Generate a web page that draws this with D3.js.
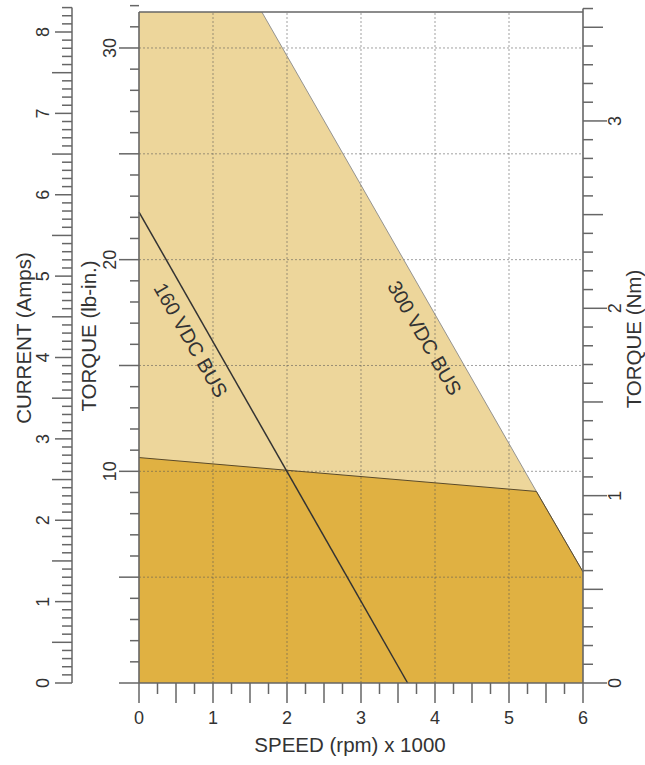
<!DOCTYPE html>
<html><head><meta charset="utf-8">
<script src="https://cdn.jsdelivr.net/npm/d3@7"></script>
<style>
body{margin:0;background:#fff}
svg{display:block}
text{font-family:"Liberation Sans",Arial,Helvetica,sans-serif;fill:#333}
</style>
</head><body>
<svg id="c" width="645" height="765"></svg>
<script>
// ---- data ----
const speedTicks = [0, 1, 2, 3, 4, 5, 6];
const speedLabels = ["0", "1", "2", "3", "4", "5", "6"];
const torqueTicks = [10, 20, 30];
const torqueLabels = ["10", "20", "30"];
const currentTicks = [0, 1, 2, 3, 4, 5, 6, 7, 8];
const currentLabels = ["0", "1", "2", "3", "4", "5", "6", "7", "8"];
const nmTicks = [0, 1, 2, 3];
const nmLabels = ["0", "1", "2", "3"];
const gridSpeed = [1, 2, 3, 4, 5];
const gridTorque = [5, 10, 15, 20, 25, 30];

// 300 VDC bus (peak) envelope: speed x1000 rpm, torque lb-in
const bus300Speed = [0, 1.66, 5.37, 6.0];
const bus300Torque = [31.7, 31.7, 9.05, 5.25];
// continuous torque envelope
const contSpeed = [0, 2.0, 5.37, 6.0];
const contTorque = [10.65, 10.05, 9.05, 5.25];
// 160 VDC bus line
const bus160Speed = [0, 3.63];
const bus160Torque = [22.25, 0];
const curveLabels = ["160 VDC BUS", "300 VDC BUS"];

// ---- scales ----
const torqueMax = 31.7;
const LBIN_PER_NM = 8.851;
const x = d3.scaleLinear().domain([0, 6]).range([139, 583]);
const y = d3.scaleLinear().domain([0, torqueMax]).range([683, 12]);
const yA = d3.scaleLinear().domain([0, 8]).range([683, 32]);
const yN = d3.scaleLinear().domain([0, torqueMax / LBIN_PER_NM]).range([683, 12]);

const svg = d3.select("#c");
const tickCol = "#666";

// ---- fills ----
const area = d3.area().x(d => x(d[0])).y0(y(0)).y1(d => y(d[1]));
const lightPts = bus300Speed.map((s, i) => [s, bus300Torque[i]]);
const darkPts = contSpeed.map((s, i) => [s, contTorque[i]]);
svg.append("path").attr("d", area(lightPts)).attr("fill", "#EDD69B");
svg.append("path").attr("d", area(darkPts)).attr("fill", "#E0B142");

// ---- grid ----
const g = svg.append("g").attr("stroke", "#555").attr("stroke-opacity", 0.55)
  .attr("stroke-width", 1).attr("stroke-dasharray", "2,2");
gridSpeed.forEach(s => g.append("line").attr("x1", x(s)).attr("x2", x(s)).attr("y1", y(0)).attr("y2", y(torqueMax)));
gridTorque.forEach(t => g.append("line").attr("x1", x(0)).attr("x2", x(6)).attr("y1", y(t)).attr("y2", y(t)));

// ---- curve strokes ----
const line = d3.line().x(d => x(d[0])).y(d => y(d[1]));
svg.append("path").attr("d", line(lightPts.slice(1))).attr("fill", "none")
  .attr("stroke", "#8a8a8a").attr("stroke-width", 0.9);
svg.append("path").attr("d", line(darkPts)).attr("fill", "none")
  .attr("stroke", "#5a4a2a").attr("stroke-width", 1);
const p160 = bus160Speed.map((s, i) => [s, bus160Torque[i]]);
svg.append("path").attr("d", line(p160)).attr("fill", "none")
  .attr("stroke", "#333").attr("stroke-width", 1.5);

// ---- curve labels ----
function ang(s0, t0, s1, t1) {
  return Math.atan2(y(t1) - y(t0), x(s1) - x(s0)) * 180 / Math.PI;
}
const a160 = ang(bus160Speed[0], bus160Torque[0], bus160Speed[1], bus160Torque[1]);
const a300 = ang(bus300Speed[1], bus300Torque[1], bus300Speed[2], bus300Torque[2]);
[[curveLabels[0], 0.70, 16.2, a160], [curveLabels[1], 3.86, 16.3, a300]].forEach(([t, s, q, a]) => {
  svg.append("text").attr("transform", `translate(${x(s)},${y(q)}) rotate(${a})`)
    .attr("text-anchor", "middle").attr("dominant-baseline", "central")
    .attr("font-size", 20).attr("fill", "#222").text(t);
});

// ---- axis lines ----
const ax = svg.append("g").attr("stroke", tickCol).attr("fill", "none");
ax.append("line").attr("x1", 72).attr("x2", 72).attr("y1", yA(8.3)).attr("y2", yA(0)).attr("stroke", "#8c8c8c").attr("stroke-width", 2);
ax.append("line").attr("x1", x(0)).attr("x2", x(0)).attr("y1", y(torqueMax)).attr("y2", y(0)).attr("stroke-width", 1.6);
ax.append("line").attr("x1", x(0)).attr("x2", x(6)).attr("y1", y(torqueMax)).attr("y2", y(torqueMax)).attr("stroke-width", 1.5);
ax.append("line").attr("x1", x(6)).attr("x2", x(6)).attr("y1", yN(3.6)).attr("y2", y(0)).attr("stroke-width", 1.6);
ax.append("line").attr("x1", x(0)).attr("x2", x(6)).attr("y1", y(0)).attr("y2", y(0)).attr("stroke-width", 1.6);

// ---- ticks ----
const tk = svg.append("g").attr("stroke", tickCol).attr("stroke-width", 1.5);
const near = (v, m) => Math.abs(v / m - Math.round(v / m)) < 1e-6;
d3.range(0, 84).map(i => i / 10).forEach(v => {
  const L = near(v, 1) ? 17 : near(v, 0.5) ? 20 : 10;
  tk.append("line").attr("x1", 72 - L).attr("x2", 72).attr("y1", yA(v)).attr("y2", yA(v));
});
d3.range(0, 33).forEach(v => {
  const L = near(v, 5) ? 20 : 9;
  tk.append("line").attr("x1", x(0) - L).attr("x2", x(0)).attr("y1", y(v)).attr("y2", y(v));
});
d3.range(0, 25).map(i => i / 4).forEach(v => {
  const L = near(v, 0.5) ? 20 : 11;
  tk.append("line").attr("x1", x(v)).attr("x2", x(v)).attr("y1", y(0)).attr("y2", y(0) + L);
});
d3.range(0, 37).map(i => i / 10).forEach(v => {
  const L = near(v, 1) ? 24 : near(v, 0.5) ? 20 : 10;
  tk.append("line").attr("x1", x(6)).attr("x2", x(6) + L).attr("y1", yN(v)).attr("y2", yN(v));
});

// ---- tick labels ----
const fs = 18;
speedTicks.forEach((v, i) => svg.append("text").attr("x", x(v)).attr("y", 718)
  .attr("text-anchor", "middle").attr("dominant-baseline", "central").attr("font-size", fs).text(speedLabels[i]));
currentTicks.forEach((v, i) => svg.append("text").attr("transform", `translate(43,${yA(v)}) rotate(-90)`)
  .attr("text-anchor", "middle").attr("dominant-baseline", "central").attr("font-size", fs).text(currentLabels[i]));
torqueTicks.forEach((v, i) => svg.append("text").attr("transform", `translate(110,${y(v)}) rotate(-90)`)
  .attr("text-anchor", "middle").attr("dominant-baseline", "central").attr("font-size", fs).text(torqueLabels[i]));
nmTicks.forEach((v, i) => svg.append("text").attr("transform", `translate(615,${yN(v)}) rotate(-90)`)
  .attr("text-anchor", "middle").attr("dominant-baseline", "central").attr("font-size", fs).text(nmLabels[i]));

// ---- titles ----
const tfs = 20.5;
svg.append("text").attr("x", 350).attr("y", 744).attr("text-anchor", "middle")
  .attr("dominant-baseline", "central").attr("font-size", tfs).text("SPEED (rpm) x 1000");
svg.append("text").attr("transform", "translate(23,338) rotate(-90)").attr("text-anchor", "middle")
  .attr("dominant-baseline", "central").attr("font-size", tfs).text("CURRENT (Amps)");
svg.append("text").attr("transform", "translate(88,336) rotate(-90)").attr("text-anchor", "middle")
  .attr("dominant-baseline", "central").attr("font-size", tfs).text("TORQUE (lb-in.)");
svg.append("text").attr("transform", "translate(633,339) rotate(-90)").attr("text-anchor", "middle")
  .attr("dominant-baseline", "central").attr("font-size", tfs).text("TORQUE (Nm)");
</script>
</body></html>
